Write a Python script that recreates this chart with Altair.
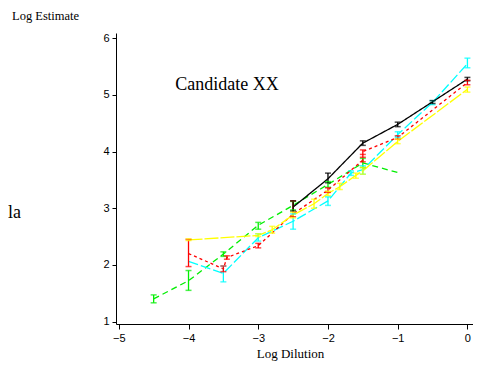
import altair as alt
import pandas as pd

# ---- data ----
series_names = ["green", "cyan", "red", "yellow", "black"]
series_colors = ["#00ee00", "#00ffff", "#ff0000", "#ffff00", "#000000"]
series_dash = [[6, 4], [10, 3], [3, 3], [14, 2], [1, 0]]

green_x = [-4.5, -4, -3.5, -3, -2.5, -2, -1.5, -1]
green_y = [1.40, 1.72, 2.19, 2.70, 3.05, 3.42, 3.80, 3.63]
green_lo = [1.33, 1.55, 2.15, 2.63, 2.97, 3.37, 3.72, 3.63]
green_hi = [1.47, 1.90, 2.23, 2.75, 3.12, 3.47, 3.88, 3.63]

cyan_x = [-4, -3.5, -3, -2.5, -2, -1.67, -1.5, -1, -0.5, 0]
cyan_y = [2.06, 1.85, 2.48, 2.77, 3.13, 3.62, 3.68, 4.30, 4.87, 5.55]
cyan_lo = [2.06, 1.70, 2.42, 2.63, 3.05, 3.58, 3.60, 4.25, 4.83, 5.48]
cyan_hi = [2.06, 1.98, 2.55, 2.90, 3.20, 3.66, 3.75, 4.35, 4.90, 5.65]

red_x = [-4, -3.5, -3.45, -3, -2.5, -2, -1.5, -1.5, -1, 0]
red_y = [2.20, 1.93, 2.13, 2.34, 2.90, 3.32, 3.85, 4.00, 4.25, 5.22]
red_lo = [1.97, 1.88, 2.10, 2.30, 2.85, 3.28, 3.82, 3.95, 4.22, 5.18]
red_hi = [2.45, 1.98, 2.16, 2.38, 3.13, 3.36, 3.90, 4.03, 4.28, 5.26]

yellow_x = [-4, -3, -2.8, -2.5, -2.2, -2, -1.83, -1.6, -1.5, -1, 0]
yellow_y = [2.44, 2.52, 2.62, 2.88, 3.08, 3.26, 3.38, 3.58, 3.66, 4.18, 5.10]
yellow_lo = [2.43, 2.50, 2.56, 2.83, 3.00, 3.22, 3.33, 3.53, 3.60, 4.14, 5.05]
yellow_hi = [2.46, 2.55, 2.68, 2.93, 3.16, 3.30, 3.44, 3.62, 3.72, 4.22, 5.14]

black_x = [-2.5, -2, -1.5, -1, -0.5, 0]
black_y = [3.02, 3.52, 4.15, 4.48, 4.88, 5.28]
black_lo = [2.95, 3.45, 4.11, 4.44, 4.85, 5.25]
black_hi = [3.13, 3.62, 4.19, 4.52, 4.90, 5.31]

x_ticks = [-5, -4, -3, -2, -1, 0]
y_ticks = [1, 2, 3, 4, 5, 6]

rows = []
for name, xs, ys, los, his in [
    ("green", green_x, green_y, green_lo, green_hi),
    ("cyan", cyan_x, cyan_y, cyan_lo, cyan_hi),
    ("red", red_x, red_y, red_lo, red_hi),
    ("yellow", yellow_x, yellow_y, yellow_lo, yellow_hi),
    ("black", black_x, black_y, black_lo, black_hi),
]:
    for i, (a, b, c, d) in enumerate(zip(xs, ys, los, his)):
        rows.append({"series": name, "x": a, "y": b, "lo": c, "hi": d, "idx": i})
df = pd.DataFrame(rows)
err = df[df["lo"] < df["hi"]]

serif = "Liberation Serif"
sans = "Liberation Sans"

xscale = alt.Scale(domain=[-5.04, 0.08], nice=False, zero=False)
yscale = alt.Scale(domain=[0.956, 6.094], nice=False, zero=False)
color = alt.Color("series:N", scale=alt.Scale(domain=series_names, range=series_colors), legend=None)

xaxis = alt.Axis(values=x_ticks, format="d", title="Log Dilution", grid=False, tickSize=5, labelPadding=3,
                 titleFont=serif, titleFontSize=13, titleFontWeight="normal",
                 titleBaseline="alphabetic", titleY=33, titleX=174)
yaxis = alt.Axis(values=y_ticks, format="d", title="Log Estimate", grid=False, tickSize=4, labelPadding=3,
                 titleFont=serif, titleFontSize=12.5, titleFontWeight="normal", titleAngle=0,
                 titleAlign="center", titleBaseline="alphabetic", titleX=-71, titleY=-14)

base = alt.Chart(df)

lines = base.mark_line(strokeWidth=1.3, clip=False).encode(
    x=alt.X("x:Q", scale=xscale, axis=xaxis),
    y=alt.Y("y:Q", scale=yscale, axis=yaxis),
    color=color,
    strokeDash=alt.StrokeDash("series:N", scale=alt.Scale(domain=series_names, range=series_dash), legend=None),
    order="idx:Q",
)

ebase = alt.Chart(err)
rules = ebase.mark_rule(strokeWidth=1.3).encode(
    x=alt.X("x:Q", scale=xscale), y=alt.Y("lo:Q", scale=yscale), y2="hi:Q", color=color)
caps_lo = ebase.mark_tick(orient="horizontal", size=6, thickness=1.5).encode(
    x=alt.X("x:Q", scale=xscale), y=alt.Y("lo:Q", scale=yscale), color=color)
caps_hi = ebase.mark_tick(orient="horizontal", size=6, thickness=1.5).encode(
    x=alt.X("x:Q", scale=xscale), y=alt.Y("hi:Q", scale=yscale), color=color)

annot = pd.DataFrame({"t": ["Candidate XX"]})
cand = alt.Chart(annot).mark_text(font=serif, fontSize=18, align="center", baseline="alphabetic",
                                  color="black").encode(
    text="t:N", x=alt.value(111), y=alt.value(57))
annot2 = pd.DataFrame({"t": ["la"]})
la = alt.Chart(annot2).mark_text(font=serif, fontSize=18, align="left", baseline="alphabetic",
                                 color="black").encode(
    text="t:N", x=alt.value(-108), y=alt.value(185))

chart = alt.layer(lines, rules, caps_lo, caps_hi, cand, la).properties(
    width=357, height=291,
    autosize=alt.AutoSizeParams(type="none"),
    padding={"left": 108, "top": 25, "right": 0, "bottom": 37},
).configure_view(stroke=None).configure_axis(
    domainColor="black", tickColor="black", labelColor="black", titleColor="black",
    labelFont=sans, labelFontSize=11, domainWidth=1, tickWidth=1,
)

chart.save("out.html", embed_options={"renderer": "svg", "actions": False})
